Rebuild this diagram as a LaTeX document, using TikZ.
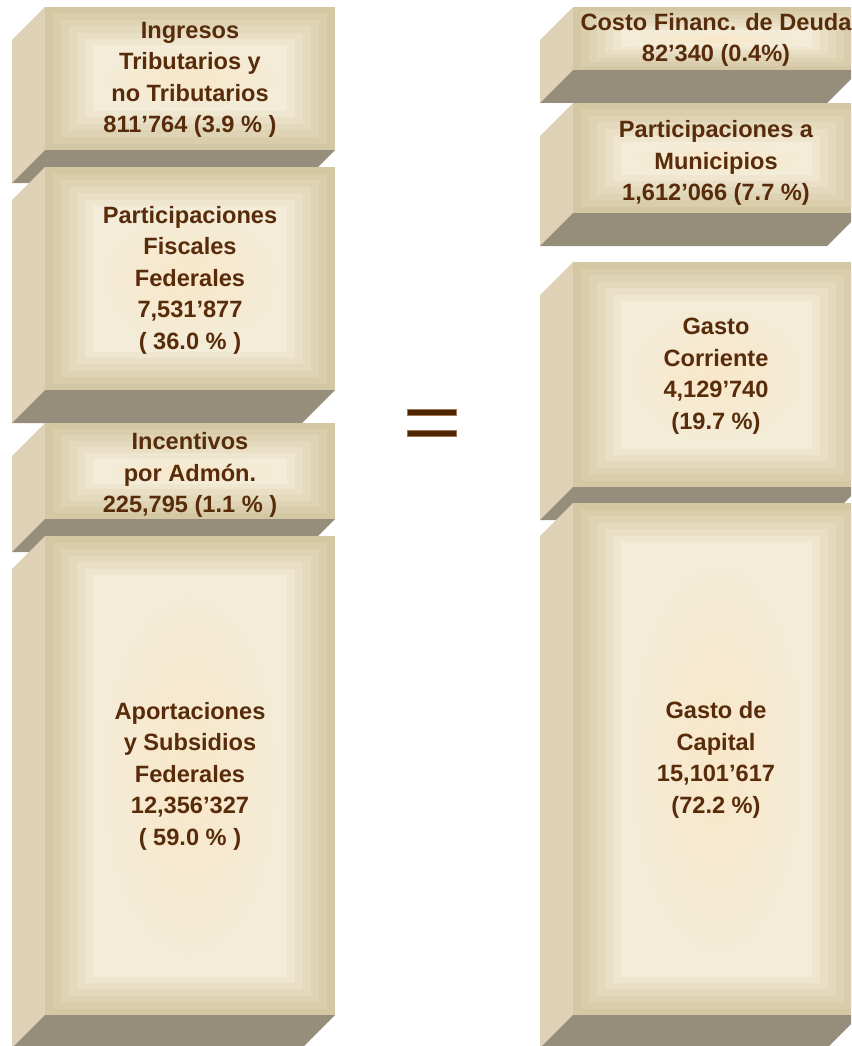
\documentclass[tikz,border=0pt]{standalone}
\usepackage{fontspec}
\setmainfont{Liberation Sans}
\definecolor{sideface}{RGB}{222,209,181}
\definecolor{bottomface}{RGB}{150,141,122}
\definecolor{frontout}{RGB}{212,199,164}
\definecolor{frontin}{RGB}{243,236,216}
\definecolor{glow}{RGB}{249,231,201}
\definecolor{labeltext}{RGB}{88,44,10}
\definecolor{eqsign}{RGB}{77,38,0}
\definecolor{eqedge}{RGB}{160,120,85}
\begin{document}
\begin{tikzpicture}[x=1pt,y=-1pt,
  label/.style={align=center,inner sep=0pt,text=labeltext,
    font=\fontsize{23.6}{31.5}\selectfont\bfseries},
  side/.style={fill=sideface},
  bottom/.style={fill=bottomface},
  eqbar/.style={fill=eqsign,draw=eqedge,line width=0.8pt}]
  \useasboundingbox (0,0) rectangle (851,1046);
  \clip (0,0) rectangle (851,1046);

  % boxes: name/left/top/right/bottom, drawn top to bottom
  \foreach \n/\xa/\ya/\xb/\yb in {ing/45/7/335/150, pff/45/167/335/390,
      inc/45/423/335/519, apo/45/536/335/1015,
      cfd/573/7/860/70, pm/573/103/860/213,
      gc/573/262/860/487, gk/573/503/860/1015}{
    \coordinate (\n-nw) at (\xa,\ya);
    \coordinate (\n-sw) at (\xa,\yb);
    \coordinate (\n-se) at (\xb,\yb);
    % left face
    \fill[side] (\n-nw) -- (\n-sw) -- ++(-33,33) -- ++(0,\ya-\yb) -- cycle;
    % bottom face
    \fill[bottom] (\n-sw) -- (\n-se) -- ++(-33,33) -- ++(\xa-\xb,0) -- cycle;
    % front face, in steps
    \pgfmathsetmacro\dy{min(6.5,(\yb-\ya)/16)}
    \foreach \k in {0,...,6}{
      \pgfmathtruncatemacro\pct{\k*100/6}
      \fill[frontin!\pct!frontout] (\xa+8*\k,\ya+\dy*\k) rectangle (\xb-8*\k,\yb-\dy*\k);
    }
    \shade[inner color=glow,outer color=frontin] (\xa+48,\ya+6*\dy) rectangle (\xb-48,\yb-6*\dy);
  }

  % left column
  \node[label] (ing) at (190,80) {Ingresos\\Tributarios y\\no Tributarios\\811’764 (3.9 \% )};
  \node[label] (pff) at (190,280) {Participaciones\\Fiscales\\Federales\\7,531’877\\( 36.0 \% )};
  \node[label] (inc) at (190,475) {Incentivos\\por Admón.\\225,795 (1.1 \% )};
  \node[label] (apo) at (190,776) {Aportaciones\\y Subsidios\\Federales\\12,356’327\\( 59.0 \% )};

  % right column
  \node[label] (cfd) at (716,40) {Costo Financ. de Deuda\\82’340 (0.4\%)};
  \node[label] (pm) at (716,163) {Participaciones a\\Municipios\\1,612’066 (7.7 \%)};
  \node[label] (gc) at (716,376) {Gasto\\Corriente\\4,129’740\\(19.7 \%)};
  \node[label] (gk) at (716,760) {Gasto de\\Capital\\15,101’617\\(72.2 \%)};

  % equals sign
  \fill[eqbar] (407,409) rectangle (456,415);
  \fill[eqbar] (407,430) rectangle (456,436);
\end{tikzpicture}
\end{document}
